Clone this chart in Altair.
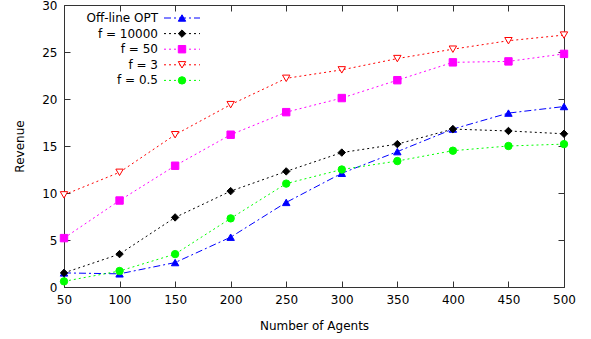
import altair as alt
import pandas as pd

agents = [50, 100, 150, 200, 250, 300, 350, 400, 450, 500]
series_names = ["Off-line OPT", "f = 10000", "f = 50", "f = 3", "f = 0.5"]
opt = [1.5, 1.4, 2.6, 5.3, 9.0, 12.1, 14.4, 16.8, 18.5, 19.2]
f10000 = [1.5, 3.5, 7.4, 10.2, 12.3, 14.3, 15.2, 16.8, 16.6, 16.3]
f50 = [5.2, 9.2, 12.9, 16.2, 18.6, 20.1, 22.0, 23.9, 24.0, 24.8]
f3 = [9.8, 12.2, 16.2, 19.4, 22.2, 23.1, 24.3, 25.3, 26.2, 26.8]
f05 = [0.6, 1.7, 3.5, 7.3, 11.0, 12.5, 13.4, 14.5, 15.0, 15.2]

colors = ["#0000ff", "#000000", "#ff00ff", "#ff0000", "#00ff00"]
fills = ["#0000ff", "#000000", "#ff00ff", "#ffffff", "#00ff00"]
shapes = ["triangle-up", "diamond", "square", "triangle-down", "circle"]
dashes = [[7, 3, 2, 3], [2, 3], [2, 3], [2, 3], [2, 3]]

marker_keys = [n + " (marker)" for n in series_names]

rows = []
for name, key, vals in zip(series_names, marker_keys, [opt, f10000, f50, f3, f05]):
    for a, v in zip(agents, vals):
        rows.append({"agents": a, "revenue": v, "series": name, "marker": key})
df = pd.DataFrame(rows)

FONT = "DejaVu Sans"
FRAME = "#333333"

xscale = alt.Scale(domain=[50, 500], nice=False, zero=False)
yscale = alt.Scale(domain=[0, 30], nice=False, zero=True)

line_legend = alt.Legend(title=None, orient="none", legendX=0, legendY=7,
                         symbolType="M-6,0H6", symbolSize=36,
                         symbolStrokeWidth=1, labelAlign="right",
                         labelOffset={"expr": "-30"}, symbolOffset=112, padding=0,
                         rowPadding=3.6, labelFontSize=12, labelFont=FONT)
mark_legend = alt.Legend(title=None, orient="none", legendX=0, legendY=7,
                         symbolSize=55, labelExpr="''", labelAlign="right",
                         labelOffset={"expr": "-30"}, symbolOffset=112, padding=0,
                         rowPadding=3.6, labelFontSize=12, labelFont=FONT,
                         symbolStrokeWidth=1)

lines = alt.Chart(df).mark_line(strokeWidth=1, clip=True).encode(
    x=alt.X("agents:Q", scale=xscale,
            axis=alt.Axis(orient="bottom", values=agents, title="Number of Agents",
                          offset=-6, tickSize=6, domain=False, labelPadding=7,
                          labelFlush=False, titlePadding=15, tickColor=FRAME,
                          labelColor="#000000")),
    y=alt.Y("revenue:Q", scale=yscale,
            axis=alt.Axis(orient="left", values=[0, 5, 10, 15, 20, 25, 30], title="Revenue",
                          offset=-6, tickSize=6, domain=False, labelPadding=7,
                          labelFlush=False, titlePadding=15, tickColor=FRAME,
                          labelColor="#000000")),
    color=alt.Color("series:N", scale=alt.Scale(domain=series_names, range=colors),
                    legend=line_legend),
    strokeDash=alt.StrokeDash("series:N", scale=alt.Scale(domain=series_names, range=dashes),
                              legend=line_legend),
)

pts = alt.Chart(df).mark_point(filled=True, size=55, strokeWidth=1, opacity=1).encode(
    x=alt.X("agents:Q", scale=xscale,
            axis=alt.Axis(orient="top", values=agents, title=None, labels=False,
                          offset=-6, tickSize=6, domain=False, tickColor=FRAME)),
    y=alt.Y("revenue:Q", scale=yscale,
            axis=alt.Axis(orient="right", values=[0, 5, 10, 15, 20, 25, 30], title=None,
                          labels=False, offset=-6, tickSize=6, domain=False, tickColor=FRAME)),
    shape=alt.Shape("marker:N", scale=alt.Scale(domain=marker_keys, range=shapes),
                    legend=mark_legend),
    fill=alt.Fill("marker:N", scale=alt.Scale(domain=marker_keys, range=fills),
                  legend=mark_legend),
    stroke=alt.Stroke("marker:N", scale=alt.Scale(domain=marker_keys, range=colors),
                      legend=mark_legend),
)

chart = alt.layer(lines, pts).resolve_axis(x="independent", y="independent").properties(
    width=500, height=282,
    autosize=alt.AutoSizeParams(type="none"),
    padding={"left": 64, "top": 5, "right": 27, "bottom": 52},
    background="white",
).configure_view(stroke=FRAME, strokeWidth=1).configure_axis(
    labelFont=FONT, titleFont=FONT, labelFontSize=12, titleFontSize=12,
    titleFontWeight="normal", grid=False, ticks=True, titleColor="#000000",
).configure_legend(labelColor="#000000")

chart.save("out.html", embed_options={"renderer": "svg", "actions": False})
